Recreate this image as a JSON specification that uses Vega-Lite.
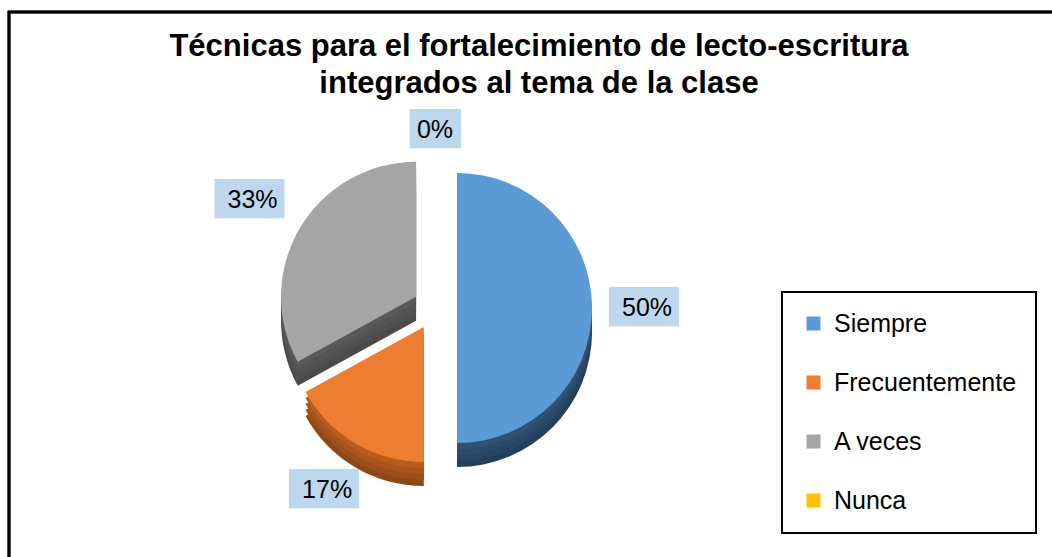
{
  "$schema": "https://vega.github.io/schema/vega-lite/v6.json",
  "autosize": {"type": "none"},
  "width": 1060,
  "height": 560,
  "padding": {"left": 9, "top": 12, "right": 0, "bottom": 0},
  "background": "white",
  "config": {"view": {"stroke": null}, "font": "Liberation Sans", "legend": {"strokeWidth": 2}},
  "title": {
    "text": ["Técnicas para el fortalecimiento de lecto-escritura", "integrados al tema de la clase"],
    "font": "Liberation Sans", "fontSize": 31, "fontWeight": "bold", "color": "#000",
    "anchor": "middle", "frame": "group", "baseline": "top", "offset": -89, "lineHeight": 37
  },
  "data": {"values": [
    {"categoria": "Siempre", "pct": 0.5},
    {"categoria": "Frecuentemente", "pct": 0.17},
    {"categoria": "A veces", "pct": 0.33},
    {"categoria": "Nunca", "pct": 0}
  ]},
  "transform": [{"window": [{"op": "row_number", "as": "idx"}]}],
  "layer": [
    {
      "mark": {"type": "rect", "filled": false, "stroke": "#000", "strokeWidth": 2.5},
      "encoding": {}
    },
    {
      "encoding": {
        "theta": {"field": "pct", "type": "quantitative", "stack": true},
        "order": {"field": "idx", "type": "quantitative", "sort": "ascending"}
      },
      "layer": [
        {
          "mark": {"type": "arc", "x": 426, "y": 296, "radius": 135,
            "xOffset": {"expr": "22*sin(scale('theta',0.5*(datum.pct_start+datum.pct_end)))"},
            "yOffset": {"expr": "24-22*cos(scale('theta',0.5*(datum.pct_start+datum.pct_end)))"}},
          "encoding": {"color": {"field": "categoria", "type": "nominal", "sort": ["Siempre", "Frecuentemente", "A veces", "Nunca"], "scale": {"range": ["#243F5C", "#8E4816", "#4A4A4A", "#BF9000"]}, "legend": null}}
        },
        {
          "mark": {"type": "arc", "x": 426, "y": 296, "radius": 135,
            "xOffset": {"expr": "22*sin(scale('theta',0.5*(datum.pct_start+datum.pct_end)))"},
            "yOffset": {"expr": "18-22*cos(scale('theta',0.5*(datum.pct_start+datum.pct_end)))"}},
          "encoding": {"color": {"field": "categoria", "type": "nominal", "sort": ["Siempre", "Frecuentemente", "A veces", "Nunca"], "scale": {"range": ["#284563", "#9C4F19", "#4F4F4F", "#BF9000"]}, "legend": null}}
        },
        {
          "mark": {"type": "arc", "x": 426, "y": 296, "radius": 135,
            "xOffset": {"expr": "22*sin(scale('theta',0.5*(datum.pct_start+datum.pct_end)))"},
            "yOffset": {"expr": "12-22*cos(scale('theta',0.5*(datum.pct_start+datum.pct_end)))"}},
          "encoding": {"color": {"field": "categoria", "type": "nominal", "sort": ["Siempre", "Frecuentemente", "A veces", "Nunca"], "scale": {"range": ["#2C4A6A", "#A8551C", "#545454", "#BF9000"]}, "legend": null}}
        },
        {
          "mark": {"type": "arc", "x": 426, "y": 296, "radius": 135,
            "xOffset": {"expr": "22*sin(scale('theta',0.5*(datum.pct_start+datum.pct_end)))"},
            "yOffset": {"expr": "6-22*cos(scale('theta',0.5*(datum.pct_start+datum.pct_end)))"}},
          "encoding": {"color": {"field": "categoria", "type": "nominal", "sort": ["Siempre", "Frecuentemente", "A veces", "Nunca"], "scale": {"range": ["#305173", "#B85C1E", "#595959", "#BF9000"]}, "legend": null}}
        },
        {
          "mark": {"type": "arc", "x": 426, "y": 296, "radius": 135,
            "xOffset": {"expr": "22*sin(scale('theta',0.5*(datum.pct_start+datum.pct_end)))"},
            "yOffset": {"expr": "-22*cos(scale('theta',0.5*(datum.pct_start+datum.pct_end)))"}},
          "encoding": {"color": {"field": "categoria", "type": "nominal", "sort": ["Siempre", "Frecuentemente", "A veces", "Nunca"],
            "scale": {"range": ["#5B9BD5", "#ED7D31", "#A5A5A5", "#FFC000"]},
            "legend": {"orient": "none", "legendX": 773, "legendY": 280, "title": null, "strokeColor": "#000", "fillColor": "white", "padding": 19, "rowPadding": 33, "symbolType": "square", "symbolSize": 196, "symbolStrokeWidth": 0, "labelFontSize": 25, "labelFont": "Liberation Sans", "labelColor": "#000", "labelOffset": 8, "labelLimit": 400}}}
        },
        {
          "mark": {"type": "text", "x": 426, "y": 296, "font": "DejaVu Sans", "fontSize": 33, "color": "#BDD7EE", "baseline": "middle",
            "radius": {"expr": "datum.pct == 0 ? 178 : 212"},
            "text": {"expr": "datum.pct == 0 ? '██' : '██▊'"}}
        },
        {
          "mark": {"type": "text", "x": 426, "y": 296, "font": "Liberation Sans", "fontSize": 25, "color": "#000", "baseline": "middle",
            "radius": {"expr": "datum.pct == 0 ? 178 : 212"}},
          "encoding": {"text": {"field": "pct", "type": "quantitative", "format": ".0%"}}
        }
      ],
      "resolve": {"scale": {"color": "independent"}}
    }
  ]
}
